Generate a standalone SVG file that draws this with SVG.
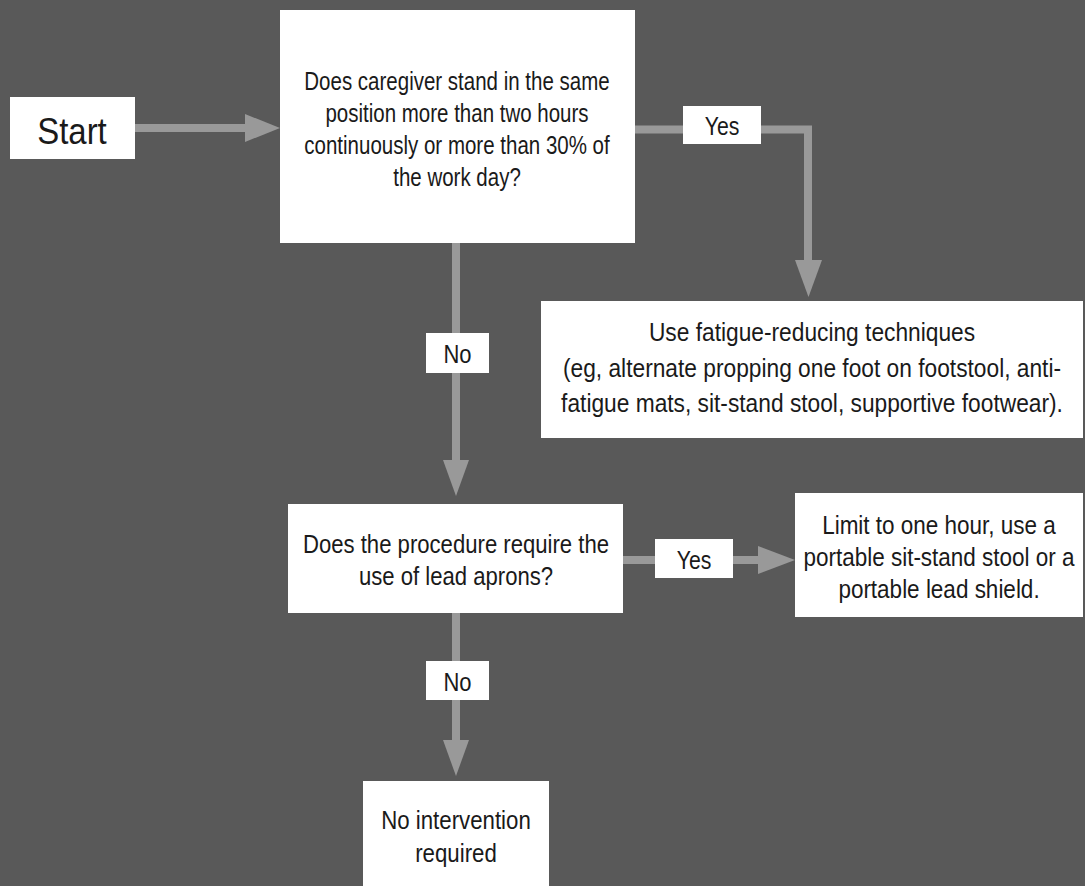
<svg xmlns="http://www.w3.org/2000/svg" width="1085" height="886" viewBox="0 0 1085 886">
<style>
.box{fill:#ffffff}
.t{font-family:"Liberation Sans",Arial,sans-serif;font-size:25px;fill:#1a1a1a;text-anchor:middle}
.line{stroke:#999999;stroke-width:8;fill:none}
.head{fill:#999999}
</style>
<rect width="1085" height="886" fill="#595959"/>
<g id="connectors">
<line class="line" x1="135" y1="128" x2="247" y2="128"/>
<polygon class="head" points="245,114 280,128 245,142"/>
<polyline class="line" points="635,129.5 808,129.5 808,262"/>
<polygon class="head" points="795,260 822,260 808.5,297"/>
<line class="line" x1="456" y1="243" x2="456" y2="462"/>
<polygon class="head" points="443,460 469,460 456,496"/>
<line class="line" x1="623" y1="560" x2="760" y2="560"/>
<polygon class="head" points="758,546 795,560 758,574"/>
<line class="line" x1="456" y1="613" x2="456" y2="742"/>
<polygon class="head" points="443,740 469,740 456,776"/>
</g>
<g id="start">
<rect class="box" x="10" y="97" width="125" height="62"/>
<text class="t" transform="translate(72,144) scale(0.89,1)" style="font-size:37px">Start</text>
</g>
<g id="q1">
<rect class="box" x="280" y="10" width="355" height="233"/>
<text class="t" transform="translate(457,90) scale(0.82,1)">Does caregiver stand in the same</text>
<text class="t" transform="translate(457,122) scale(0.82,1)">position more than two hours</text>
<text class="t" transform="translate(457,154) scale(0.82,1)">continuously or more than 30% of</text>
<text class="t" transform="translate(457,186) scale(0.82,1)">the work day?</text>
</g>
<g id="label-yes1">
<rect class="box" x="683" y="106" width="78" height="38"/>
<text class="t" transform="translate(722,135) scale(0.85,1)">Yes</text>
</g>
<g id="fatigue">
<rect class="box" x="541" y="301" width="542" height="137"/>
<text class="t" transform="translate(812,341) scale(0.91,1)">Use fatigue-reducing techniques</text>
<text class="t" transform="translate(812,377) scale(0.91,1)">(eg, alternate propping one foot on footstool, anti-</text>
<text class="t" transform="translate(812,412) scale(0.91,1)">fatigue mats, sit-stand stool, supportive footwear).</text>
</g>
<g id="label-no1">
<rect class="box" x="426" y="333" width="63" height="40"/>
<text class="t" transform="translate(457.5,363) scale(0.88,1)">No</text>
</g>
<g id="q2">
<rect class="box" x="288" y="504" width="335" height="109"/>
<text class="t" transform="translate(456,553) scale(0.885,1)">Does the procedure require the</text>
<text class="t" transform="translate(456,585) scale(0.885,1)">use of lead aprons?</text>
</g>
<g id="label-yes2">
<rect class="box" x="655" y="539" width="78" height="39"/>
<text class="t" transform="translate(694,569) scale(0.85,1)">Yes</text>
</g>
<g id="limit">
<rect class="box" x="795" y="493" width="288" height="124"/>
<text class="t" transform="translate(939,534) scale(0.9,1)">Limit to one hour, use a</text>
<text class="t" transform="translate(939,566) scale(0.9,1)">portable sit-stand stool or a</text>
<text class="t" transform="translate(939,598) scale(0.9,1)">portable lead shield.</text>
</g>
<g id="label-no2">
<rect class="box" x="426" y="661" width="63" height="39"/>
<text class="t" transform="translate(457.5,691) scale(0.88,1)">No</text>
</g>
<g id="none">
<rect class="box" x="363" y="781" width="186" height="110"/>
<text class="t" transform="translate(456,829) scale(0.89,1)">No intervention</text>
<text class="t" transform="translate(456,862) scale(0.89,1)">required</text>
</g>
</svg>
